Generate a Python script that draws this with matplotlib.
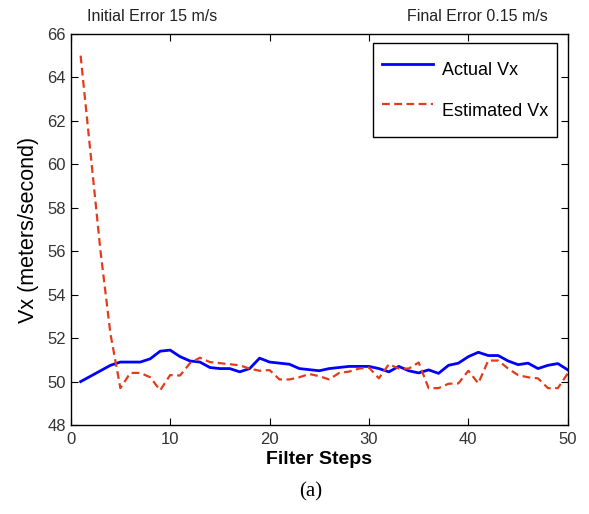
import matplotlib.pyplot as plt
import numpy as np

steps = np.arange(1, 51)

actual_vx = [50.0, 50.25, 50.5, 50.75, 50.9, 50.9, 50.9, 51.05, 51.4, 51.45,
             51.15, 50.95, 50.9, 50.65, 50.6, 50.6, 50.45, 50.6, 51.08, 50.9,
             50.85, 50.8, 50.6, 50.55, 50.5, 50.6, 50.65, 50.7, 50.7, 50.7,
             50.6, 50.45, 50.7, 50.5, 50.4, 50.54, 50.38, 50.75, 50.85, 51.15,
             51.35, 51.2, 51.2, 50.95, 50.78, 50.85, 50.6, 50.75, 50.83, 50.54]

estimated_vx = [65.0, 60.5, 56.0, 52.2, 49.7, 50.4, 50.4, 50.2, 49.6, 50.3,
                50.28, 50.85, 51.1, 50.9, 50.85, 50.8, 50.75, 50.6, 50.5, 50.53,
                50.1, 50.1, 50.2, 50.35, 50.25, 50.1, 50.4, 50.46, 50.6, 50.65,
                50.15, 50.8, 50.6, 50.6, 50.88, 49.7, 49.7, 49.9, 49.92, 50.5,
                49.92, 50.97, 50.97, 50.6, 50.3, 50.2, 50.15, 49.7, 49.7, 50.38]

plt.rcParams['font.family'] = ['Liberation Sans', 'DejaVu Sans']

fig = plt.figure(figsize=(5.89, 5.14), dpi=100)
ax = fig.add_axes([0.12, 0.173, 0.844, 0.761])

ax.plot(steps, actual_vx, linestyle='-', color='#0000ff', linewidth=2, label="Actual Vx")
ax.plot(steps, estimated_vx, linestyle='--', color='#e33b1b', linewidth=1.6,
        dashes=(3.5, 2), label="Estimated Vx")

ax.set_xlim(0, 50)
ax.set_ylim(48, 66)
ax.set_xticks(np.arange(0, 51, 10))
ax.set_yticks(np.arange(48, 67, 2))
ax.tick_params(direction='in', top=True, right=True, labelsize=12, length=5,
               labelcolor='#333333')
ax.tick_params(axis='x', pad=5)
for s in ax.spines.values():
    s.set_linewidth(1.0)

ax.set_xlabel("Filter Steps", fontsize=14, fontweight='bold', labelpad=3)
ax.set_ylabel("Vx (meters/second)", fontsize=15.5, labelpad=6)

fig.text(0.148, 0.967, "Initial Error 15 m/s", fontsize=11.5, color='#222222', va='center')
fig.text(0.93, 0.967, "Final Error 0.15 m/s", fontsize=11.5, color='#222222',
         va='center', ha='right')
fig.text(0.528, 0.043, "(a)", fontsize=15, family='Liberation Serif', ha='center', va='center')

# matlab-style legend: tall rows, tight side padding
leg = ax.legend(loc='upper right', fontsize=13, fancybox=False, framealpha=1,
                edgecolor='black', borderpad=0.5, labelspacing=0.22, handleheight=2.7,
                handlelength=2.8, handletextpad=0.5,
                borderaxespad=0, bbox_to_anchor=(0.978, 0.977))
leg.get_frame().set_linewidth(1.0)

plt.savefig('out.png', dpi=100)
